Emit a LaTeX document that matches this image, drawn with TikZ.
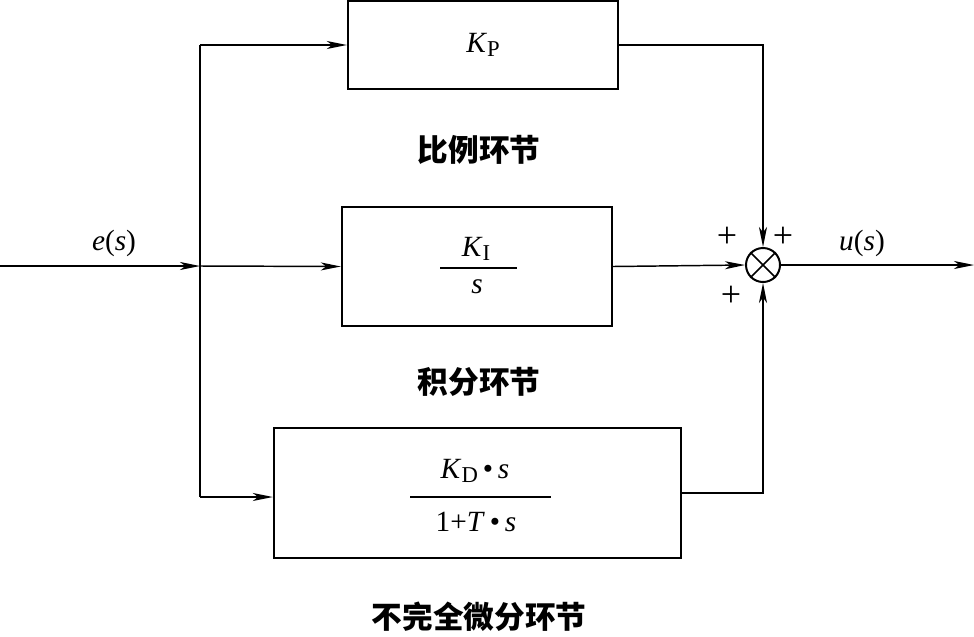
\documentclass[tikz,border=0pt]{standalone}
\usepackage{fontspec}
\setmainfont{Liberation Serif}
\newfontfamily\cjk{Noto Sans CJK SC}
\usetikzlibrary{arrows.meta}
\newcommand{\mysub}[1]{\raisebox{-0.35ex}{\fontsize{17}{20}\selectfont #1}}
\begin{document}
\begin{tikzpicture}[x=0.75pt,y=-0.75pt,
  blk/.style={draw,line width=1.8pt,inner sep=0pt},
  conn/.style={line width=1.1pt},
  arr/.style={conn,-{Stealth[length=15pt,width=6pt,inset=4pt]}},
  lbl/.style={inner sep=0pt,font=\fontsize{22}{26}\selectfont},
  cjklbl/.style={inner sep=0pt,font=\cjk\bfseries\fontsize{23}{28}\selectfont},
  pl/.style={inner sep=0pt,font=\fontsize{27}{30}\selectfont},
  bar/.style={line width=1pt}]
\useasboundingbox (0,0) rectangle (974,636);
\fill[white] (0,0) rectangle (974,636);

% blocks
\node[blk,minimum width=202.5pt,minimum height=66pt,font=\fontsize{22}{26}\selectfont] (kp) at (483,45) {\textit{K}\mysub{P}};
\node[blk,minimum width=202.5pt,minimum height=89.25pt] (ki) at (477,266.5) {};
\node[blk,minimum width=305.25pt,minimum height=97.5pt] (kd) at (477.5,493) {};

% fraction KI / s
\node[lbl] (kin) at (476,249) {\textit{K}\mysub{I}};
\coordinate (kib1) at (440,268);
\coordinate (kib2) at (517,268);
\draw[bar] (kib1) -- (kib2);
\node[lbl] (kis) at (477,287) {\textit{s}};

% fraction KD s / (1+Ts)
\node[lbl] (kdn) at (475,471) {\textit{K}\mysub{D}\,•\,\textit{s}};
\coordinate (kdb1) at (410,497);
\coordinate (kdb2) at (551,497);
\draw[bar] (kdb1) -- (kdb2);
\node[lbl] (kdd) at (476,522) {1+\textit{T}\,•\,\textit{s}};

% captions
\node[cjklbl] (c1) at (479,150) {比例环节};
\node[cjklbl] (c2) at (479,382) {积分环节};
\node[cjklbl] (c3) at (479,617) {不完全微分环节};

% summing junction
\node[draw,circle,line width=1.5pt,minimum size=25.5pt,inner sep=0pt] (sum) at (763,265) {};
\draw[line width=1.3pt] (sum.45) -- (sum.225);
\draw[line width=1.3pt] (sum.135) -- (sum.315);
\node[pl] (p1) at (727,237) {+};
\node[pl] (p2) at (783,237) {+};
\node[pl] (p3) at (731,296) {+};

% input / branch
\coordinate (in) at (0,266);
\coordinate (br) at (200,266);
\coordinate (btop) at (200,45);
\coordinate (bbot) at (200,497);
\coordinate (out) at (974,265);
\node[lbl] (es) at (114,243) {\textit{e}(\textit{s})};
\node[lbl] (us) at (862,243) {\textit{u}(\textit{s})};

\draw[arr] (in) -- (br);
\draw[conn] (btop) -- (bbot);
\draw[arr] (btop) -- (kp.west);
\draw[arr] (br) -- (ki.west);
\draw[arr] (bbot) -- (bbot -| kd.west);

\draw[arr] (kp.east) -| (sum.north);
\draw[arr] (ki.east) -- (sum.west);
\draw[arr] (kd.east) -| (sum.south);
\draw[arr] (sum.east) -- (out);
\end{tikzpicture}
\end{document}
